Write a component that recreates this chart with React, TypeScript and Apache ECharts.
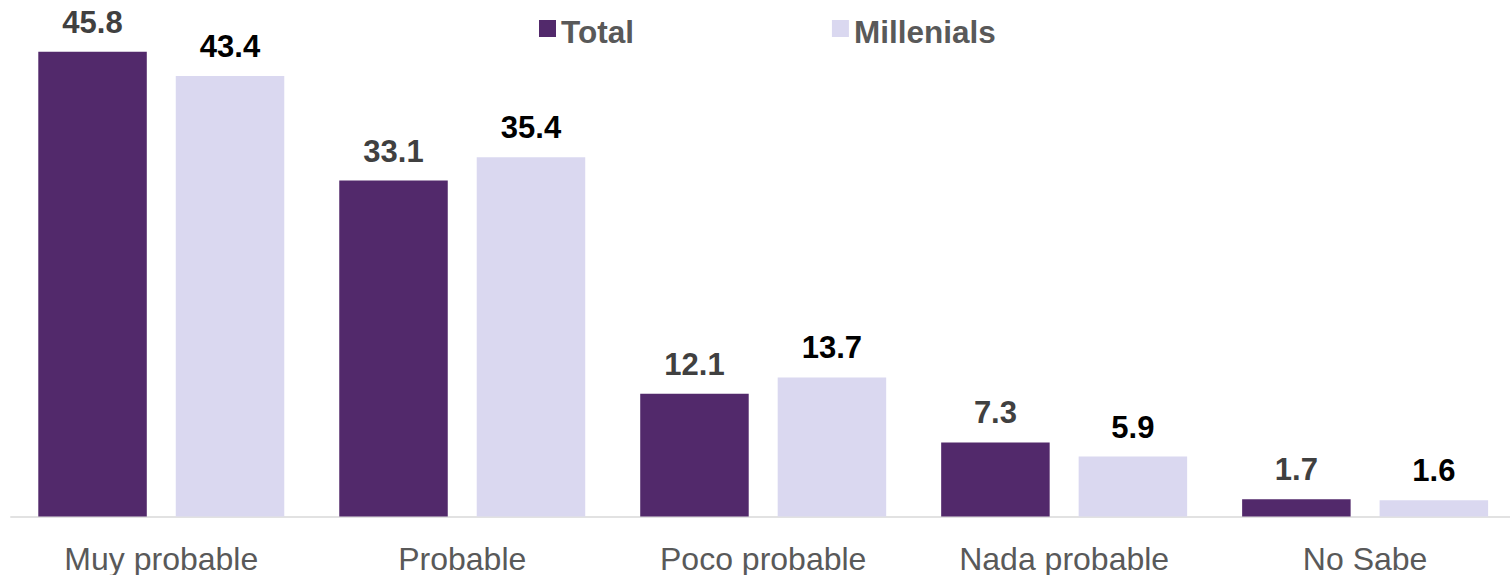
import React, { useEffect, useRef } from "react";
import * as echarts from "echarts";

const categories = ["Muy probable", "Probable", "Poco probable", "Nada probable", "No Sabe"];
const totalValues = [45.8, 33.1, 12.1, 7.3, 1.7];
const millenialsValues = [43.4, 35.4, 13.7, 5.9, 1.6];
const seriesNames = ["Total", "Millenials"];

const FONT = "'Liberation Sans', Arial, sans-serif";

export default function App() {
  const ref = useRef<HTMLDivElement>(null);
  useEffect(() => {
    if (!ref.current) return;
    const chart = echarts.init(ref.current, undefined, { renderer: "svg" });
    chart.setOption({
      animation: false,
      textStyle: { fontFamily: FONT },
      legend: {
        left: 539,
        top: 16,
        padding: 0,
        itemWidth: 17,
        itemHeight: 17,
        itemGap: 198,
        icon: "rect",
        formatter: "{a|{name}}",
        textStyle: {
          fontFamily: FONT,
          fontSize: 31.5,
          fontWeight: "bold",
          color: "#595959",
          rich: {
            a: {
              fontFamily: FONT,
              fontSize: 31.5,
              fontWeight: "bold",
              color: "#595959",
              padding: [7, 0, 0, 0],
            },
          },
        },
        data: seriesNames,
      },
      grid: { left: 10.8, right: 0.4, top: 9, bottom: 58.5, containLabel: false },
      xAxis: {
        type: "category",
        data: categories,
        axisTick: { show: false },
        axisLine: { show: true, lineStyle: { color: "#d9d9d9", width: 1.5 } },
        axisLabel: { color: "#595959", fontSize: 32, fontFamily: FONT, margin: 26, interval: 0 },
      },
      yAxis: {
        type: "value",
        min: 0,
        max: 50,
        show: false,
        splitLine: { show: false },
      },
      series: [
        {
          name: seriesNames[0],
          type: "bar",
          data: totalValues,
          barWidth: 108.5,
          barGap: "26.7%",
          itemStyle: { color: "#52296b" },
          label: {
            show: true,
            position: "top",
            distance: 14,
            fontSize: 31,
            fontWeight: "bold",
            color: "#404040",
            fontFamily: FONT,
          },
        },
        {
          name: seriesNames[1],
          type: "bar",
          data: millenialsValues,
          barWidth: 108.5,
          barGap: "26.7%",
          itemStyle: { color: "#dad8f0" },
          label: {
            show: true,
            position: "top",
            distance: 14,
            fontSize: 31,
            fontWeight: "bold",
            color: "#000000",
            fontFamily: FONT,
          },
        },
      ],
    });
    return () => chart.dispose();
  }, []);
  return (
    <div
      ref={ref}
      style={{ position: "fixed", left: 0, top: 0, width: 1516, height: 575, background: "#fff" }}
    />
  );
}
